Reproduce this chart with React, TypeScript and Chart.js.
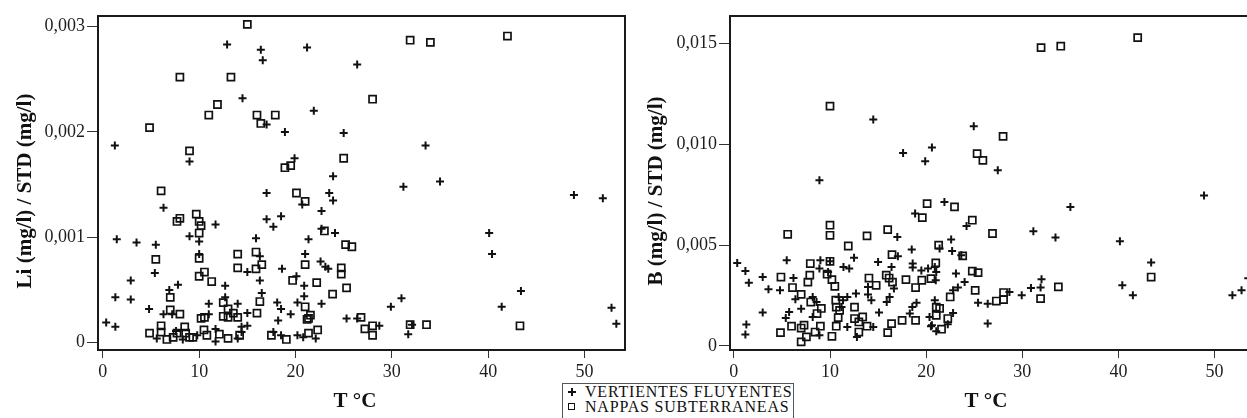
import { useEffect, useRef } from 'react';
import { Chart, registerables } from 'chart.js';

Chart.register(...registerables);

const FONT = '"Liberation Serif", "Times New Roman", serif';

// ---------- DATA ----------
const X_TICKS = [0, 10, 20, 30, 40, 50];
const LI_TICKS = [0, 0.001, 0.002, 0.003];
const B_TICKS = [0, 0.005, 0.01, 0.015];

const X_TITLE = 'T °C';
const LI_TITLE = 'Li (mg/l) / STD (mg/l)';
const B_TITLE = 'B (mg/l) / STD (mg/l)';
const SERIES_NAMES = ['VERTIENTES FLUYENTES', 'NAPPAS SUBTERRANEAS'];

// [T °C, Li/STD]
const LI_VERTIENTES: [number, number][] = [
  [12.9, 0.00283], [16.4, 0.00278], [16.6, 0.00268], [21.2, 0.0028], [14.5, 0.00232], [21.9, 0.0022],
  [17.0, 0.00207], [18.9, 0.002], [1.25, 0.00187], [9.0, 0.00172], [19.9, 0.00175], [17.0, 0.00142],
  [6.3, 0.00128], [20.7, 0.00131], [26.4, 0.00264], [25.0, 0.00199], [33.5, 0.00187], [23.9, 0.00158],
  [31.2, 0.00148], [35.0, 0.00153], [23.5, 0.00142], [23.9, 0.00135], [48.9, 0.0014], [51.9, 0.00137],
  [22.7, 0.00125], [1.45, 0.00098], [3.5, 0.00095], [5.5, 0.00093], [9.0, 0.00101], [10.0, 0.00096],
  [11.7, 0.00112], [15.9, 0.00099], [17.0, 0.00117], [17.7, 0.0011], [18.5, 0.0012], [21.35, 0.00098],
  [10.0, 0.00084], [16.3, 0.00082], [22.7, 0.00108], [24.1, 0.00104], [22.6, 0.00077], [23.1, 0.00072],
  [23.4, 0.0007], [21.0, 0.00084], [15.0, 0.00067], [18.6, 0.0007], [5.4, 0.00066], [20.1, 0.00063],
  [40.1, 0.00104], [40.4, 0.00084], [2.9, 0.00059], [7.8, 0.00055], [6.9, 0.0005], [1.3, 0.00043],
  [2.9, 0.00041], [4.8, 0.00032], [16.3, 0.00059], [16.5, 0.00047], [20.9, 0.00054], [20.9, 0.00044],
  [12.7, 0.00054], [12.7, 0.00043], [11.0, 0.00037], [11.0, 0.00027], [14.0, 0.00037], [15.0, 0.00028],
  [18.1, 0.00038], [18.5, 0.00032], [19.5, 0.00027], [20.2, 0.00038], [18.2, 0.00021], [22.7, 0.00037],
  [25.3, 0.00023], [26.4, 0.00023], [29.9, 0.00034], [31.0, 0.00042], [41.4, 0.00034], [43.4, 0.00049],
  [52.8, 0.00033], [6.3, 0.00027], [7.2, 0.00027], [0.35, 0.00019], [1.3, 0.00015], [28.7, 0.00016],
  [32.1, 0.00017], [31.7, 0.00008], [53.3, 0.00018], [22.1, 0.00004], [14.4, 0.00015], [15.0, 0.00016],
  [14.4, 0.0001], [11.7, 0.00013], [11.7, 0.00001], [14.0, 0.00004], [5.6, 0.00004], [8.3, 0.00003],
  [17.7, 0.0001], [18.5, 0.00007], [20.2, 0.00007], [20.8, 0.00005], [7.6, 0.00011], [9.8, 0.00007],
];

const LI_NAPPAS: [number, number][] = [
  [15.0, 0.00302], [8.0, 0.00252], [13.3, 0.00252], [4.85, 0.00204], [11.0, 0.00216], [11.9, 0.00226],
  [16.0, 0.00216], [16.4, 0.00208], [17.9, 0.00216], [9.0, 0.00182], [18.9, 0.00166], [19.5, 0.00168],
  [6.05, 0.00144], [20.1, 0.00142], [21.0, 0.00134], [31.9, 0.00287], [34.0, 0.00285], [42.0, 0.00291],
  [28.0, 0.00231], [25.0, 0.00175], [7.7, 0.00115], [8.0, 0.00118], [9.7, 0.00122], [10.0, 0.00115],
  [10.2, 0.00111], [10.0, 0.00104], [5.5, 0.00079], [10.0, 0.0008], [14.0, 0.00084], [15.9, 0.00086],
  [14.0, 0.00071], [15.9, 0.0007], [16.5, 0.00074], [10.0, 0.00063], [10.55, 0.00067], [11.3, 0.00058],
  [19.7, 0.00059], [22.2, 0.00057], [21.0, 0.00074], [16.3, 0.00039], [16.0, 0.00028], [7.0, 0.00043],
  [7.0, 0.00031], [8.0, 0.00027], [12.5, 0.00038], [12.5, 0.00025], [13.0, 0.00032], [13.55, 0.00028],
  [13.0, 0.00024], [14.0, 0.00024], [10.2, 0.00023], [10.55, 0.00024], [21.0, 0.00034], [21.35, 0.00023],
  [21.55, 0.00026], [21.2, 0.00022], [6.05, 0.00016], [4.85, 0.00009], [6.05, 0.0001], [6.65, 0.00003],
  [7.3, 0.00005], [7.7, 0.00009], [8.5, 0.00015], [8.6, 0.00009], [9.0, 0.00005], [9.35, 0.00005],
  [10.5, 0.00012], [10.8, 0.00007], [12.1, 0.00008], [13.0, 0.00004], [14.2, 0.00007], [17.5, 0.00007],
  [19.05, 0.00003], [21.35, 0.00009], [22.3, 0.00012], [23.0, 0.00106], [25.2, 0.00093], [25.85, 0.00091],
  [24.75, 0.00071], [24.75, 0.00065], [25.3, 0.00052], [23.85, 0.00046], [26.8, 0.00024], [27.2, 0.00013],
  [28.0, 0.00016], [28.0, 0.00007], [31.9, 0.00017], [33.6, 0.00017], [43.3, 0.00016],
];

// [T °C, B/STD]
const B_VERTIENTES: [number, number][] = [
  [14.5, 0.01123], [8.9, 0.00822], [17.6, 0.00957], [19.9, 0.00916], [20.6, 0.00984], [24.95, 0.0109],
  [27.45, 0.00872], [21.9, 0.00714], [35.0, 0.0069], [48.9, 0.00747], [0.35, 0.00412], [1.2, 0.00372],
  [1.56, 0.00314], [3.0, 0.00342], [3.6, 0.00281], [4.8, 0.00276], [3.0, 0.00166], [1.3, 0.00106],
  [1.2, 0.00057], [5.5, 0.00425], [5.4, 0.00139], [5.75, 0.00169], [6.2, 0.00337], [6.4, 0.00232],
  [7.0, 0.00185], [9.0, 0.00425], [8.9, 0.00384], [9.8, 0.00367], [8.2, 0.00243], [8.2, 0.00144],
  [8.6, 0.00218], [8.9, 0.00053], [10.0, 0.0042], [10.9, 0.00243], [11.2, 0.00193], [11.35, 0.00227],
  [11.8, 0.00243], [11.8, 0.00094], [11.4, 0.00392], [12.0, 0.00384], [12.5, 0.00438], [12.7, 0.0026],
  [12.8, 0.00045], [13.95, 0.00255], [14.3, 0.00227], [13.95, 0.00293], [14.5, 0.00094], [15.0, 0.00417],
  [15.1, 0.00166], [15.9, 0.00218], [16.2, 0.00243], [16.4, 0.00392], [16.65, 0.00285], [17.06, 0.00445],
  [17.0, 0.00541], [18.5, 0.00478], [18.6, 0.00409], [18.6, 0.00389], [19.5, 0.00375], [20.2, 0.00384],
  [18.56, 0.00193], [18.3, 0.00161], [19.0, 0.00215], [20.35, 0.00144], [20.6, 0.00103], [21.05, 0.00073],
  [18.85, 0.00657], [21.0, 0.00326], [20.9, 0.00392], [31.15, 0.00569], [33.45, 0.00538], [40.15, 0.00519],
  [43.4, 0.00414], [40.4, 0.00301], [41.5, 0.00251], [51.85, 0.00251], [52.8, 0.00276], [53.5, 0.00336],
  [24.2, 0.00595], [22.6, 0.00528], [21.4, 0.00483], [22.7, 0.00471], [23.65, 0.0045], [23.1, 0.00359],
  [21.05, 0.00367], [24.0, 0.00317], [23.3, 0.0029], [22.8, 0.00276], [25.4, 0.00215], [26.4, 0.0021],
  [26.4, 0.00111], [28.66, 0.00268], [29.94, 0.00251], [30.9, 0.00288], [31.9, 0.0029], [32.0, 0.00331],
  [22.8, 0.00164], [22.25, 0.00108], [20.9, 0.00227], [20.5, 0.00098],
];

const B_NAPPAS: [number, number][] = [
  [10.0, 0.0119], [20.1, 0.00706], [31.95, 0.0148], [34.0, 0.01487], [42.0, 0.0153], [28.0, 0.0104],
  [25.3, 0.00954], [25.9, 0.00921], [22.95, 0.0069], [10.0, 0.00599], [10.0, 0.00549], [5.6, 0.00554],
  [11.9, 0.00496], [13.85, 0.00546], [16.0, 0.00577], [19.6, 0.00637], [21.3, 0.005], [16.45, 0.00453],
  [7.95, 0.00409], [10.0, 0.0042], [7.9, 0.00351], [4.9, 0.00342], [6.1, 0.0029], [7.0, 0.00256],
  [7.7, 0.00317], [9.7, 0.00356], [10.2, 0.00329], [10.5, 0.00296], [14.05, 0.00337], [14.8, 0.00301],
  [15.85, 0.00351], [16.15, 0.00337], [16.5, 0.00317], [17.9, 0.00329], [18.9, 0.0029], [19.55, 0.00326],
  [21.0, 0.00412], [21.05, 0.00193], [21.05, 0.00152], [18.9, 0.00127], [17.5, 0.00127], [16.4, 0.00111],
  [16.0, 0.00066], [13.0, 0.00069], [13.4, 0.00144], [12.55, 0.00193], [12.55, 0.00136], [13.0, 0.00119],
  [13.85, 0.00098], [10.85, 0.00141], [11.0, 0.00177], [10.65, 0.00193], [10.6, 0.00227], [10.65, 0.00098],
  [10.2, 0.00048], [9.0, 0.00098], [9.1, 0.00186], [8.65, 0.00161], [8.0, 0.00218], [8.45, 0.00069],
  [7.3, 0.00103], [7.0, 0.00089], [7.55, 0.00045], [7.0, 0.0002], [6.0, 0.00098], [4.85, 0.00066],
  [24.8, 0.00624], [26.9, 0.00558], [23.8, 0.00447], [24.8, 0.00371], [25.4, 0.00364], [20.5, 0.00334],
  [25.1, 0.00276], [22.5, 0.00243], [21.4, 0.00186], [22.25, 0.00136], [21.6, 0.00083], [27.3, 0.00223],
  [28.05, 0.0023], [28.05, 0.00265], [31.9, 0.00235], [33.75, 0.00293], [43.4, 0.00342],
];

// ---------- CHART ----------
const fmt = (v: number) => (v === 0 ? '0' : v.toFixed(3).replace('.', ','));

type PanelProps = {
  left: number;
  vert: [number, number][];
  napp: [number, number][];
  yTicks: number[];
  yMin: number;
  yMax: number;
  xMin: number;
  xMax: number;
  yTitle: string;
  yAxisWidth: number;
  yTitleX: number;
  xTitleX: number;
};

function Panel(p: PanelProps) {
  const ref = useRef<HTMLCanvasElement | null>(null);
  useEffect(() => {
    if (!ref.current) return;
    const framePlugin = {
      id: 'frameAndTitles',
      beforeDatasetsDraw(chart: any) {
        const { ctx, chartArea } = chart;
        ctx.save();
        ctx.strokeStyle = '#1a1a1a';
        ctx.lineWidth = 2;
        ctx.strokeRect(chartArea.left, chartArea.top, chartArea.right - chartArea.left, chartArea.bottom - chartArea.top);
        ctx.restore();
      },
      afterDraw(chart: any) {
        const { ctx } = chart;
        ctx.save();
        ctx.fillStyle = '#111';
        ctx.font = `bold 21px ${FONT}`;
        ctx.textAlign = 'center';
        ctx.textBaseline = 'alphabetic';
        ctx.fillText(X_TITLE, p.xTitleX, 407);
        ctx.translate(p.yTitleX, 191);
        ctx.rotate(-Math.PI / 2);
        ctx.fillText(p.yTitle, 0, 0);
        ctx.restore();
      },
    };
    const chart = new Chart(ref.current, {
      type: 'scatter',
      data: {
        datasets: [
          {
            label: SERIES_NAMES[0],
            data: p.vert.map(([x, y]) => ({ x, y })),
            pointStyle: 'cross',
            pointRadius: 4,
            borderColor: '#111',
            backgroundColor: 'transparent',
            borderWidth: 2,
          },
          {
            label: SERIES_NAMES[1],
            data: p.napp.map(([x, y]) => ({ x, y })),
            pointStyle: 'rect',
            pointRadius: 5,
            borderColor: '#111',
            backgroundColor: 'transparent',
            borderWidth: 1.7,
          },
        ],
      },
      options: {
        animation: false,
        responsive: false,
        devicePixelRatio: 1,
        events: [],
        layout: { padding: { top: 16, right: 5, left: 0, bottom: 0 }, autoPadding: false },
        plugins: { legend: { display: false }, tooltip: { enabled: false } },
        scales: {
          x: {
            type: 'linear',
            min: p.xMin,
            max: p.xMax,
            afterBuildTicks: (s: any) => { s.ticks = X_TICKS.map((v) => ({ value: v })); },
            afterFit: (s: any) => { s.height = 68; },
            grid: { display: true, drawOnChartArea: false, drawTicks: true, tickLength: 8, color: '#333', lineWidth: 1 },
            border: { display: false },
            ticks: { font: { family: FONT, size: 18 }, color: '#1e1e1e', padding: 3, maxRotation: 0, autoSkip: false, callback: (v: any) => String(v) },
          },
          y: {
            type: 'linear',
            min: p.yMin,
            max: p.yMax,
            afterBuildTicks: (s: any) => { s.ticks = p.yTicks.map((v) => ({ value: v })); },
            afterFit: (s: any) => { s.width = p.yAxisWidth; },
            grid: { display: true, drawOnChartArea: false, drawTicks: true, tickLength: 11, color: '#333', lineWidth: 1 },
            border: { display: false },
            ticks: { font: { family: FONT, size: 18 }, color: '#1e1e1e', padding: 2, autoSkip: false, callback: (v: any) => fmt(Number(v)) },
          },
        },
      },
      plugins: [framePlugin],
    } as any);
    return () => chart.destroy();
  }, []);
  return (
    <canvas
      ref={ref}
      width={630}
      height={418}
      style={{ position: 'absolute', left: p.left, top: 0, width: 630, height: 418 }}
    />
  );
}

function LegendRow({ kind, text }: { kind: 'cross' | 'rect'; text: string }) {
  return (
    <div style={{ position: 'relative', height: 15 }}>
      {kind === 'cross' ? (
        <span style={{ position: 'absolute', left: 5, top: 4, width: 8, height: 8 }}>
          <span style={{ position: 'absolute', left: 0, top: 3, width: 8, height: 2, background: '#111' }} />
          <span style={{ position: 'absolute', left: 3, top: 0, width: 2, height: 8, background: '#111' }} />
        </span>
      ) : (
        <span style={{ position: 'absolute', left: 5, top: 4, width: 5, height: 5, border: '1.5px solid #111' }} />
      )}
      <span style={{ position: 'absolute', left: 22, top: 0, lineHeight: '15px', whiteSpace: 'nowrap' }}>{text}</span>
    </div>
  );
}

export default function App() {
  return (
    <div style={{ position: 'absolute', left: 0, top: 0, width: 1247, height: 418, overflow: 'hidden', background: '#fff' }}>
      <Panel
        left={0}
        vert={LI_VERTIENTES}
        napp={LI_NAPPAS}
        yTicks={LI_TICKS}
        yMin={-0.00007}
        yMax={0.0031}
        xMin={-0.5}
        xMax={54.2}
        yTitle={LI_TITLE}
        yAxisWidth={98}
        yTitleX={31}
        xTitleX={355}
      />
      <Panel
        left={630}
        vert={B_VERTIENTES}
        napp={B_NAPPAS}
        yTicks={B_TICKS}
        yMin={-0.0002}
        yMax={0.01637}
        xMin={-0.4}
        xMax={54.2}
        yTitle={B_TITLE}
        yAxisWidth={100}
        yTitleX={32}
        xTitleX={356}
      />
      <div
        style={{
          position: 'absolute',
          left: 562,
          top: 383,
          width: 232,
          height: 40,
          border: '1px solid #555',
          boxSizing: 'border-box',
          background: '#fff',
          fontFamily: FONT,
          fontSize: 16,
          letterSpacing: '0.8px',
          color: '#111',
        }}
      >
        <LegendRow kind="cross" text={SERIES_NAMES[0]} />
        <LegendRow kind="rect" text={SERIES_NAMES[1]} />
      </div>
    </div>
  );
}
